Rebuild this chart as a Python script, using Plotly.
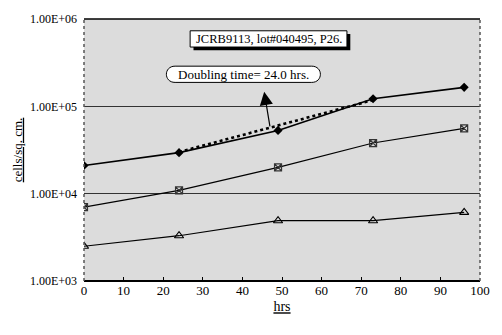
import plotly.graph_objects as go

hours = [0, 24, 49, 73, 96]
series_a = [21000, 29500, 53000, 122000, 165000]
series_b = [7000, 10900, 20000, 38000, 56000]
series_c = [2500, 3300, 4900, 4900, 6100]
fit_x = [24, 73]
fit_y = [30000, 118000]
y_tickvals = [1e3, 1e4, 1e5, 1e6]
y_ticktext = ["1.00E+03", "1.00E+04", "1.00E+05", "1.00E+06"]
x_tickvals = [0, 10, 20, 30, 40, 50, 60, 70, 80, 90, 100]

FONT = "Liberation Serif"

fig = go.Figure()
fig.add_trace(go.Scatter(x=hours, y=series_a, mode="lines+markers",
                         line=dict(color="black", width=1.6),
                         marker=dict(symbol="diamond", size=7, color="black")))
fig.add_trace(go.Scatter(x=fit_x, y=fit_y, mode="lines",
                         line=dict(color="black", width=2.6, dash="dot")))
fig.add_trace(go.Scatter(x=hours, y=series_b, mode="lines+markers",
                         line=dict(color="black", width=1.2),
                         marker=dict(symbol="square-x-open", size=7, color="#333333",
                                     line=dict(width=1.2))))
fig.add_trace(go.Scatter(x=hours, y=series_c, mode="lines+markers",
                         line=dict(color="black", width=1.2),
                         marker=dict(symbol="triangle-up-open", size=8, color="black",
                                     line=dict(width=1.1))))

# plot frame pieces
fig.add_shape(type="line", xref="paper", yref="paper", x0=0, x1=1, y0=1, y1=1,
              line=dict(color="black", width=1.5))
fig.add_shape(type="line", xref="paper", yref="paper", x0=0, x1=1, y0=0, y1=0,
              line=dict(color="black", width=2))
fig.add_shape(type="line", xref="paper", yref="paper", x0=0, x1=0, y0=0, y1=1,
              line=dict(color="#555555", width=1.5, dash="dot"))
fig.add_shape(type="line", xref="paper", yref="paper", x0=1, x1=1, y0=0, y1=1,
              line=dict(color="#555555", width=1.5, dash="dot"))

# title box with shadow
bx0, bx1, by0, by1 = 0.268, 0.664, 0.893, 0.955
dx, dy = 0.0085, 0.012
fig.add_shape(type="rect", xref="paper", yref="paper",
              x0=bx0 + dx, x1=bx1 + dx, y0=by0 - dy, y1=by1 - dy,
              fillcolor="black", line=dict(width=0))
fig.add_shape(type="rect", xref="paper", yref="paper",
              x0=bx0, x1=bx1, y0=by0, y1=by1,
              fillcolor="white", line=dict(color="black", width=1))
fig.add_annotation(xref="paper", yref="paper", x=(bx0 + bx1) / 2, y=(by0 + by1) / 2,
                   xanchor="center", yanchor="middle",
                   text="JCRB9113, lot#040495, P26.", showarrow=False,
                   font=dict(family=FONT, size=12.5, color="black"))

# rounded oval
ox0, ox1, oy0, oy1 = 0.208, 0.597, 0.758, 0.820
r = 0.022
k = r * 1.33
path = (f"M {ox0 + r},{oy1} L {ox1 - r},{oy1} "
        f"C {ox1 - r + k},{oy1} {ox1 - r + k},{oy0} {ox1 - r},{oy0} "
        f"L {ox0 + r},{oy0} "
        f"C {ox0 + r - k},{oy0} {ox0 + r - k},{oy1} {ox0 + r},{oy1} Z")
fig.add_shape(type="path", xref="paper", yref="paper", path=path,
              fillcolor="white", line=dict(color="black", width=1))
fig.add_annotation(xref="paper", yref="paper", x=(ox0 + ox1) / 2, y=(oy0 + oy1) / 2,
                   xanchor="center", yanchor="middle",
                   text="Doubling time= 24.0 hrs.", showarrow=False,
                   font=dict(family=FONT, size=13, color="black"))

# arrow
fig.add_annotation(xref="paper", yref="paper", x=0.455, y=0.722, text="",
                   showarrow=True, ax=6, ay=36, arrowhead=2, arrowsize=2.2,
                   arrowwidth=1.2, arrowcolor="black")

fig.update_layout(
    width=502, height=335,
    margin=dict(l=84, r=14, t=12, b=54),
    paper_bgcolor="white",
    plot_bgcolor="#dcdcdc",
    showlegend=False,
    font=dict(family=FONT, color="black"),
)
fig.update_xaxes(range=[0, 100], tickvals=x_tickvals, showgrid=False,
                 zeroline=False, ticks="inside", ticklen=4, tickcolor="black",
                 tickfont=dict(family=FONT, size=13),
                 title=dict(text="<u>hrs</u>", font=dict(family=FONT, size=14), standoff=4))
fig.update_yaxes(type="log", range=[3, 6], tickvals=y_tickvals, ticktext=y_ticktext,
                 showgrid=True, gridcolor="#333333", gridwidth=1, zeroline=False,
                 tickfont=dict(family=FONT, size=12), ticks="", ticklabelstandoff=6,
                 title=dict(text="<u>cells/sq. cm.</u>", font=dict(family=FONT, size=13), standoff=4))

fig.write_html("out.html")
